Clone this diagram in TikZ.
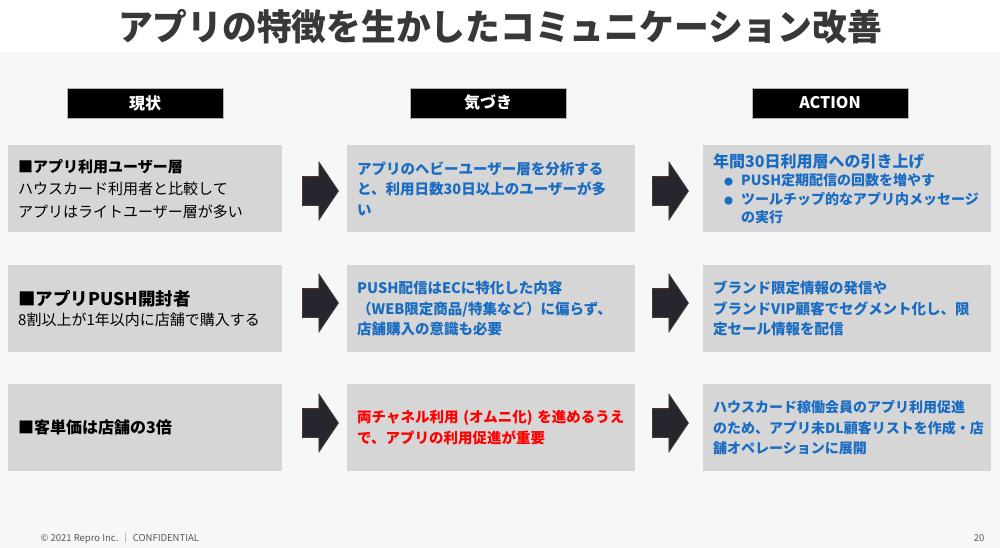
\documentclass[tikz,border=0pt]{standalone}
\usepackage{fontspec}
\setmainfont{Noto Sans CJK JP}
\usetikzlibrary{shapes.arrows,positioning}
\definecolor{panelgray}{HTML}{F7F7F9}
\definecolor{boxgray}{HTML}{D6D6D6}
\definecolor{noteblue}{HTML}{1A6CC2}
\definecolor{notered}{HTML}{FF0000}
\definecolor{arrowfill}{HTML}{25262E}
\definecolor{arrowedge}{HTML}{4E3630}
\definecolor{titlegray}{HTML}{383838}
\definecolor{footgray}{HTML}{595959}
\tikzset{
  headbox/.style={fill=black, draw=gray!60, minimum width=156pt, minimum height=30pt,
    inner sep=0pt, text=white, font=\fontsize{16}{16}\selectfont\bfseries},
  cellbox/.style={fill=boxgray, anchor=north west, minimum height=87pt,
    inner xsep=10pt, inner ysep=0pt, align=left},
  curbox/.style={cellbox, text width=254pt},
  notebox/.style={cellbox, text width=268pt, text=noteblue,
    font=\fontsize{14.5}{20.5}\selectfont\bfseries},
  blockarrow/.style={single arrow, draw=arrowedge, fill=arrowfill, line width=0.8pt,
    anchor=tail, minimum height=36pt, text height=14pt, text depth=14pt,
    inner sep=0pt, single arrow head extend=14.5pt, single arrow tip angle=112}
}
%bullet for the action list
\newcommand*{\ActItem}[1]{\mbox{\hspace*{11pt}{\fontsize{9}{9}\selectfont ●}\hspace{8pt}#1}}
\begin{document}
\begin{tikzpicture}[x=1pt,y=-1pt]
\useasboundingbox (0,0) rectangle (1000,548);
%background
\fill[white] (0,0) rectangle (1000,52);
\fill[panelgray] (0,52) rectangle (1000,548);
%title
\node[text=titlegray, font=\fontsize{36}{36}\selectfont\bfseries] (title) at (500,27)
  {\scalebox{0.965}[1]{アプリの特徴を生かしたコミュニケーション改善}};
%column heads
\node[headbox] (headcur) at (145,103) {現状};
\node[headbox] (headnote) at (488,103) {気づき};
\node[headbox] (headact) at (830,103) {ACTION};
%current state
\node[curbox, font=\fontsize{15}{22.5}\selectfont] (cur1) at (8,145)
  {\textbf{■アプリ利用ユーザー層}\\ハウスカード利用者と比較して\\アプリはライトユーザー層が多い};
\node[curbox, font=\fontsize{15}{20}\selectfont] (cur2) at (8,265)
  {{\fontsize{17.5}{17.5}\selectfont\bfseries ■アプリPUSH開封者}\\8割以上が1年以内に店舗で購入する};
\node[curbox, font=\fontsize{16}{20}\selectfont\bfseries] (cur3) at (8,384)
  {■客単価は店舗の3倍};
%findings
\node[notebox] (note1) at (347,145)
  {アプリのヘビーユーザー層を分析する\\と、利用日数30日以上のユーザーが多\\い};
\node[notebox] (note2) at (347,265)
  {PUSH配信はECに特化した内容\\（WEB限定商品/特集など）に偏らず、\\店舗購入の意識も必要};
\node[notebox, text=notered] (note3) at (347,384)
  {両チャネル利用 (オムニ化) を進めるうえ\\で、アプリの利用促進が重要};
%actions
\node[notebox, font=\fontsize{14}{18.3}\selectfont\bfseries] (act1) at (703,145)
  {{\fontsize{16}{16}\selectfont\bfseries 年間30日利用層への引き上げ}\\
   \ActItem{PUSH定期配信の回数を増やす}\\
   \ActItem{ツールチップ的なアプリ内メッセージ}\\
   \hspace*{28pt}の実行};
\node[notebox] (act2) at (703,265)
  {ブランド限定情報の発信や\\ブランドVIP顧客でセグメント化し、限\\定セール情報を配信};
\node[notebox, font=\fontsize{14}{20.5}\selectfont\bfseries] (act3) at (703,384)
  {ハウスカード稼働会員のアプリ利用促進\\のため、アプリ未DL顧客リストを作成・店\\舗オペレーションに展開};
%arrows
\node[blockarrow] (arr11) at (302,191) {};
\node[blockarrow] (arr12) at (652,191) {};
\node[blockarrow] (arr21) at (302,303) {};
\node[blockarrow] (arr22) at (652,303) {};
\node[blockarrow] (arr31) at (302,423) {};
\node[blockarrow] (arr32) at (652,423) {};
%footer
\node[anchor=west, text=footgray, font=\fontsize{9.5}{9.5}\selectfont] (foot) at (37,538)
  {© 2021 Repro Inc. │ CONFIDENTIAL};
\node[anchor=east, text=footgray, font=\fontsize{9.5}{9.5}\selectfont] (page) at (988,538) {20};
\end{tikzpicture}
\end{document}
